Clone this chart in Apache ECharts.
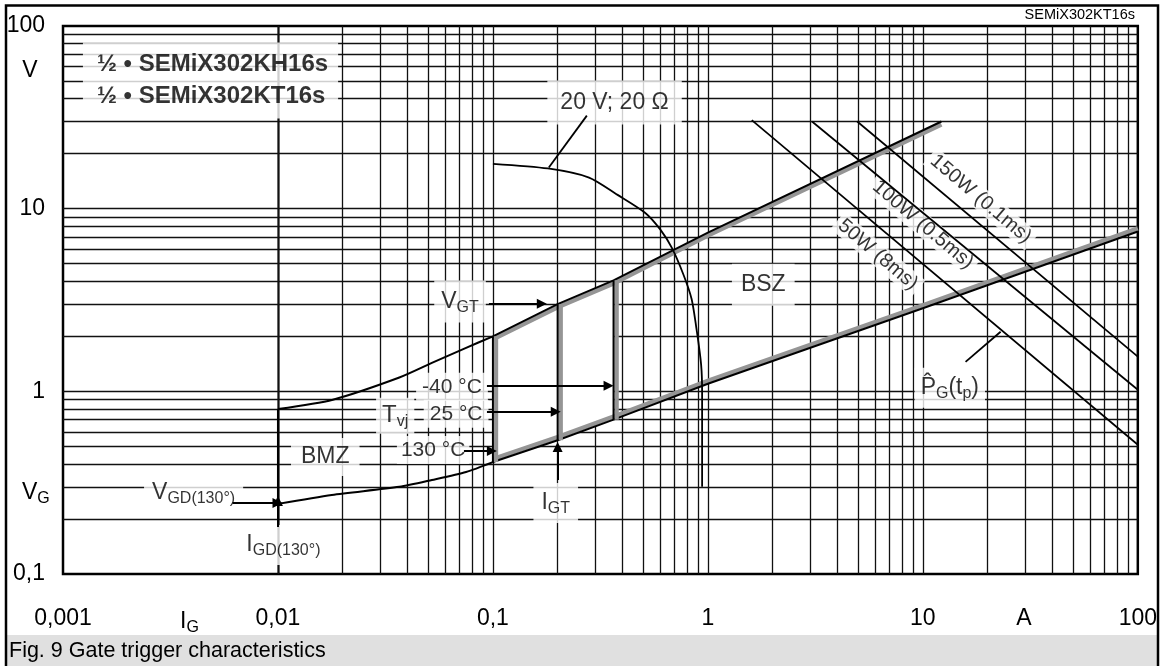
<!DOCTYPE html>
<html><head><meta charset="utf-8">
<script src="https://cdn.jsdelivr.net/npm/echarts@6/dist/echarts.min.js"></script>
<style>html,body{margin:0;padding:0;background:#fff}#c{width:1160px;height:666px}</style>
</head><body><div id="c"></div>
<script>
// ---------- data ----------
const xTickLabels = ['0,001', '0,01', '0,1', '1', '10', '100'];
const yTickLabels = ['0,1', '1', '10', '100'];
// thin curve: V_GD point, up to upper limit of non-trigger zone
const upperCurve = [[0.01, 0.242], [0.01, 0.80], [0.018, 0.90], [0.0367, 1.19], [0.052, 1.43], [0.075, 1.73], [0.1, 2.0]];
const lowerCurve = [[0.01, 0.242], [0.0178, 0.271], [0.0367, 0.30], [0.052, 0.327], [0.075, 0.362], [0.1, 0.41]];
// thick (shaded) boundaries
const upperBoundary = [[0.1, 2.0], [0.2, 3.0], [0.364, 4.05], [1, 7.4], [12.2, 30]];
const lowerBoundary = [[0.1, 0.41], [0.2, 0.54], [0.364, 0.70], [1, 1.1], [10, 2.85], [100, 7.5]];
const triggerLine130 = [[0.1, 0.41], [0.1, 2.0]];
const triggerLine25 = [[0.2, 0.54], [0.2, 3.0]];
const triggerLineM40 = [[0.364, 0.70], [0.364, 4.05]];
// 20 V ; 20 ohm load line
const loadLine = [[0.1, 17.6], [0.18, 16.6], [0.28, 14.8], [0.38, 11.9], [0.51, 9.5], [0.6, 7.7], [0.68, 6.1], [0.77, 4.35], [0.84, 3.2], [0.89, 2.1], [0.93, 1.4], [0.94, 1.0], [0.94, 0.3]];
// peak gate power hyperbolas
const power50W = [[1.6, 30.5], [100, 0.51]];
const power100W = [[3.05, 30], [100, 1.02]];
const power150W = [[4.95, 30], [100, 1.55]];

// ---------- chart ----------
const FONT = '"Liberation Sans", Arial, Helvetica, sans-serif';
const chart = echarts.init(document.getElementById('c'));

const gridX = [], gridY = [];
for (let e = -3; e <= 1; e++) for (let m = 1; m <= 9; m++) { if (e === -3 && m === 1) continue; gridX.push(+(m * Math.pow(10, e)).toPrecision(3)); }
for (let e = -1; e <= 1; e++) for (let m = 1; m <= 9; m++) { if (e === -1 && m === 1) continue; gridY.push(+(m * Math.pow(10, e)).toPrecision(3)); }

const rich = {
  m: { fontSize: 23, lineHeight: 28, fontFamily: FONT, color: '#000', fill: '#000' },
  s: { fontSize: 16, lineHeight: 16, verticalAlign: 'bottom', fontFamily: FONT, color: '#000', fill: '#000' },
  t: { fontSize: 24, lineHeight: 28, fontFamily: FONT, color: '#000' },
  c: { fontSize: 21, lineHeight: 24, fontFamily: FONT, color: '#000' },
  p: { fontSize: 20, lineHeight: 22, fontFamily: FONT, color: '#000' },
  b: { fontSize: 24, lineHeight: 32, fontWeight: 'bold', fontFamily: FONT, color: '#000' }
};

function lab(x, y, text, opt) {
  return { value: [x, y], label: Object.assign({ show: true, formatter: text, position: 'inside', align: 'center', verticalAlign: 'middle', backgroundColor: '#fff', padding: [6, 8], rich: rich }, opt || {}) };
}

function shaded(points, dx, dy) {
  return {
    type: 'custom', coordinateSystem: 'cartesian2d', z: 6, silent: true, data: points,
    renderItem: function (params, api) {
      if (params.dataIndex !== 0) return null;
      const pts = points.map(p => api.coord(p));
      return { type: 'group', children: [
        { type: 'polyline', shape: { points: pts.map(p => [p[0] + dx, p[1] + dy]) }, style: { stroke: '#959595', lineWidth: 4.5, fill: null } },
        { type: 'polyline', shape: { points: pts }, style: { stroke: '#000', lineWidth: 2, fill: null } }
      ] };
    }
  };
}

const zonePoly = upperBoundary.slice(0, 3).concat(lowerBoundary.slice(0, 3).reverse());

function thin(data, width, smooth) {
  return { type: 'line', data: data, z: 6, silent: true, showSymbol: false, symbol: 'none', smooth: smooth || false, lineStyle: { color: '#000', width: width } };
}

const option = {
  animation: false,
  backgroundColor: '#fff',
  grid: { left: 63, top: 26, width: 1077, height: 548, show: true, borderColor: '#000', borderWidth: 2.5, backgroundColor: 'transparent' },
  xAxis: {
    type: 'log', logBase: 10, min: 0.001, max: 100,
    axisLine: { show: false }, axisTick: { show: false }, splitLine: { show: false },
    axisLabel: { fontSize: 23, fontFamily: FONT, color: '#000', margin: 33,
      formatter: v => xTickLabels[Math.round(Math.log10(v)) + 3] || '' }
  },
  yAxis: {
    type: 'log', logBase: 10, min: 0.1, max: 100,
    axisLine: { show: false }, axisTick: { show: false }, splitLine: { show: false },
    axisLabel: { fontSize: 23, fontFamily: FONT, color: '#000', margin: 18,
      formatter: v => yTickLabels[Math.round(Math.log10(v)) + 1] || '' }
  },
  graphic: [
    { type: 'rect', z: 50, shape: { x: 7, y: 635, width: 1150, height: 40 }, style: { fill: '#e0e0e0' } },
    { type: 'text', z: 51, x: 9, y: 651, style: { text: 'Fig. 9 Gate trigger characteristics', font: '21.5px ' + FONT, fill: '#000', align: 'left', verticalAlign: 'middle' } },
    { type: 'rect', z: 100, shape: { x: 6, y: 5.5, width: 1152, height: 700 }, style: { fill: null, stroke: '#000', lineWidth: 2.5 } },
    { type: 'text', z: 51, x: 1135, y: 15, style: { text: 'SEMiX302KT16s', font: '14.5px ' + FONT, fill: '#000', align: 'right', verticalAlign: 'middle' } },
    { type: 'text', z: 51, x: 30, y: 71, style: { text: 'V', font: '23px ' + FONT, fill: '#000', align: 'center', verticalAlign: 'middle' } },
    { type: 'text', z: 51, x: 22, y: 493, style: { text: '{m|V}{s|G}', rich: rich, align: 'left', verticalAlign: 'middle' } },
    { type: 'text', z: 51, x: 180, y: 622, style: { text: '{m|I}{s|G}', rich: rich, align: 'left', verticalAlign: 'middle' } },
    { type: 'text', z: 51, x: 1024, y: 619, style: { text: 'A', font: '23px ' + FONT, fill: '#000', align: 'center', verticalAlign: 'middle' } }
  ],
  series: [
    { // grid lines
      type: 'line', data: [], silent: true, z: 1,
      markLine: { silent: true, z: 1, symbol: 'none', animation: false, label: { show: false },
        lineStyle: { color: '#111', width: 1.3, type: 'solid' },
        emphasis: { disabled: true },
        data: gridX.map(v => ({ xAxis: v })).concat(gridY.map(v => ({ yAxis: v }))) }
    },
    { // white interior of the trigger zone
      type: 'custom', coordinateSystem: 'cartesian2d', z: 3, silent: true, data: zonePoly,
      renderItem: function (params, api) {
        if (params.dataIndex !== 0) return null;
        return { type: 'polygon', shape: { points: zonePoly.map(p => api.coord(p)) }, style: { fill: '#fff', stroke: null } };
      }
    },
    { // annotations
      type: 'scatter', z: 4, silent: true, symbolSize: 1, itemStyle: { color: 'rgba(0,0,0,0)' },
      data: [
        lab(0.001238, 50.3, '{b|½ • SEMiX302KH16s}\n{b|½ • SEMiX302KT16s}', { align: 'left', padding: [6, 10, 6, 14] }),
        lab(0.368, 38.1, '{m|20 V; 20 Ω}', { padding: [8, 13] }),
        lab(0.0703, 3.1, '{m|V}{s|GT}', { padding: [7, 7] }),
        lab(1.81, 3.83, '{m|BSZ}', { padding: [7, 9] }),
        lab(0.0645, 1.06, '{c|-40 °C}', { padding: [2, 6] }),
        lab(0.0351, 0.734, '{t|T}{s|vj}', { padding: [4, 6] }),
        lab(0.0674, 0.753, '{c|25 °C}', { padding: [2, 6] }),
        lab(0.0527, 0.478, '{c|130 °C}', { padding: [2, 4] }),
        lab(0.0166, 0.4375, '{m|BMZ}', { padding: [5, 10] }),
        lab(0.00405, 0.278, '{m|V}{s|GD(130°)}', { padding: [6, 8] }),
        lab(0.0106, 0.144, '{m|I}{s|GD(130°)}', { padding: [6, 8] }),
        lab(0.196, 0.245, '{m|I}{s|GT}', { padding: [6, 8] }),
        lab(13.35, 1.045, '{m|P̂}{s|G}{m|(t}{s|p}{m|)}', { padding: [6, 6] }),
        lab(18.6, 11.3, '{p|150W (0.1ms)}', { rotate: -40.3, padding: [0, 4] }),
        lab(10, 8.17, '{p|100W (0.5ms)}', { rotate: -40.3, padding: [0, 4] }),
        lab(6.18, 5.6, '{p|50W (8ms)}', { rotate: -40.3, padding: [0, 4] })
      ]
    },
    thin(upperCurve.slice(0, 2), 2),
    thin(upperCurve.slice(1), 2, 0.25),
    thin(lowerCurve, 2, 0.25),
    thin(loadLine, 1.8, 0.25),
    thin(power50W, 1.7),
    thin(power100W, 1.7),
    thin(power150W, 1.7),
    shaded(upperBoundary, 0, 3),
    shaded(lowerBoundary, 0, -3),
    shaded(triggerLine130, 3, 0),
    shaded(triggerLine25, 3, 0),
    shaded(triggerLineM40, 3, 0),
    { // arrows
      type: 'line', data: [], silent: true, z: 7,
      markLine: { silent: true, z: 7, symbol: ['none', 'triangle'], symbolSize: 10, animation: false, label: { show: false },
        itemStyle: { color: '#000' },
        lineStyle: { color: '#000', width: 2, type: 'solid' }, emphasis: { disabled: true },
        data: [
          [{ coord: [0.0958, 3.02] }, { coord: [0.1688, 3.02] }],
          [{ coord: [0.0938, 1.072] }, { coord: [0.345, 1.072] }],
          [{ coord: [0.0938, 0.772] }, { coord: [0.196, 0.772] }],
          [{ coord: [0.0733, 0.472] }, { coord: [0.0989, 0.472] }],
          [{ coord: [0.2, 0.327] }, { coord: [0.2, 0.496] }],
          [{ coord: [0.00615, 0.245] }, { coord: [0.00995, 0.245] }],
          [{ coord: [0.01, 0.181] }, { coord: [0.01, 0.251] }]
        ] }
    },
    { // pointer lines
      type: 'line', data: [], silent: true, z: 7,
      markLine: { silent: true, z: 7, symbol: 'none', animation: false, label: { show: false },
        lineStyle: { color: '#000', width: 1.8, type: 'solid' }, emphasis: { disabled: true },
        data: [
          [{ coord: [0.2735, 32.3] }, { coord: [0.182, 16.8] }],
          [{ coord: [15.8, 1.45] }, { coord: [23.0, 2.12] }]
        ] }
    }
  ]
};
chart.setOption(option);
</script>
</body></html>
